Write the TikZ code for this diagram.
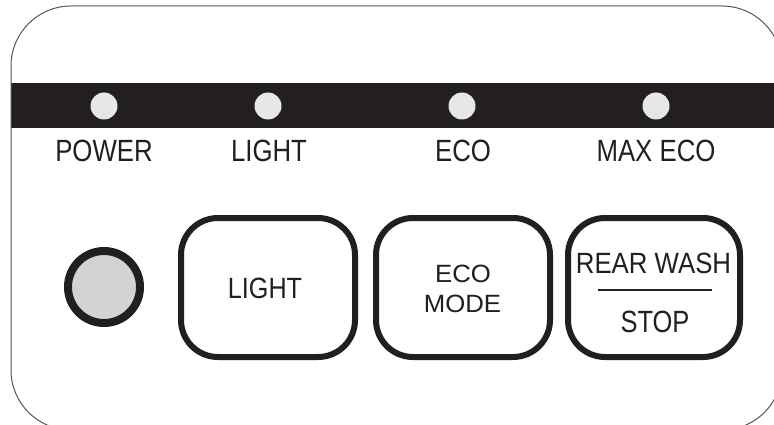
\documentclass[tikz,border=0pt]{standalone}
\usepackage{fontspec}
\setmainfont{Liberation Sans}
\definecolor{ink}{HTML}{231F20}
\definecolor{ledc}{HTML}{E6E7E8}
\definecolor{pwrc}{HTML}{D1D3D4}
\definecolor{framec}{HTML}{555555}
\begin{document}
\begin{tikzpicture}[x=1pt,y=-1pt,
  lbl/.style={inner sep=0pt, anchor=base, text=ink, font=\fontsize{30.7}{31}\selectfont, xscale=0.84},
  btntext/.style={inner sep=0pt, anchor=base, text=ink},
  led/.style={circle, fill=ledc, minimum size=27pt, inner sep=0pt},
  btn/.style={draw=ink, line width=6pt, rounded corners=37pt, minimum height=139pt, inner sep=0pt}]
\useasboundingbox (0,0) rectangle (774,425);
\clip (0,0) rectangle (774,425);
% outer panel
\fill[white] (0,0) rectangle (774,425);
\begin{scope}
  \clip[rounded corners=60pt] (11,6) rectangle (782,430);
  \fill[ink] (0,83) rectangle (790,128);
\end{scope}
\draw[framec, line width=1pt, rounded corners=60pt] (11,6) rectangle (782,430);
% LEDs
\node[led] (ledpower) at (104,106) {};
\node[led] (ledlight) at (268,106) {};
\node[led] (ledeco) at (462,106) {};
\node[led] (ledmax) at (656,106) {};
% LED labels
\node[lbl] (lpower) at (104,161.5) {POWER};
\node[lbl] (llight) at (269,161.5) {LIGHT};
\node[lbl] (leco) at (463,161.5) {ECO};
\node[lbl] (lmax) at (656,161.5) {MAX ECO};
% power button
\node[circle, draw=ink, fill=pwrc, line width=8pt, minimum size=72pt, inner sep=0pt] (power) at (104,287) {};
% buttons
\node[btn, minimum width=174pt] (blight) at (268,287.5) {};
\node[btn, minimum width=174pt] (beco) at (463,287.5) {};
\node[btn, minimum width=172pt] (brear) at (654,287.5) {};
% button texts
\node[btntext, font=\fontsize{29.3}{30}\selectfont, xscale=0.86] (tlight) at (265,298) {LIGHT};
\node[btntext, font=\fontsize{25}{26}\selectfont, xscale=1.03] (teco) at (463,282) {ECO};
\node[btntext, font=\fontsize{25}{26}\selectfont, xscale=1.03] (tmode) at (462.5,312) {MODE};
\node[btntext, font=\fontsize{29.3}{30}\selectfont, xscale=0.88] (trear) at (653.5,273) {REAR WASH};
\node[btntext, font=\fontsize{30.7}{31}\selectfont, xscale=0.83] (tstop) at (655,332) {STOP};
\coordinate (sepl) at (598,290);
\coordinate (sepr) at (712,290);
\draw[ink, line width=2pt] (sepl) -- (sepr);
\end{tikzpicture}
\end{document}
